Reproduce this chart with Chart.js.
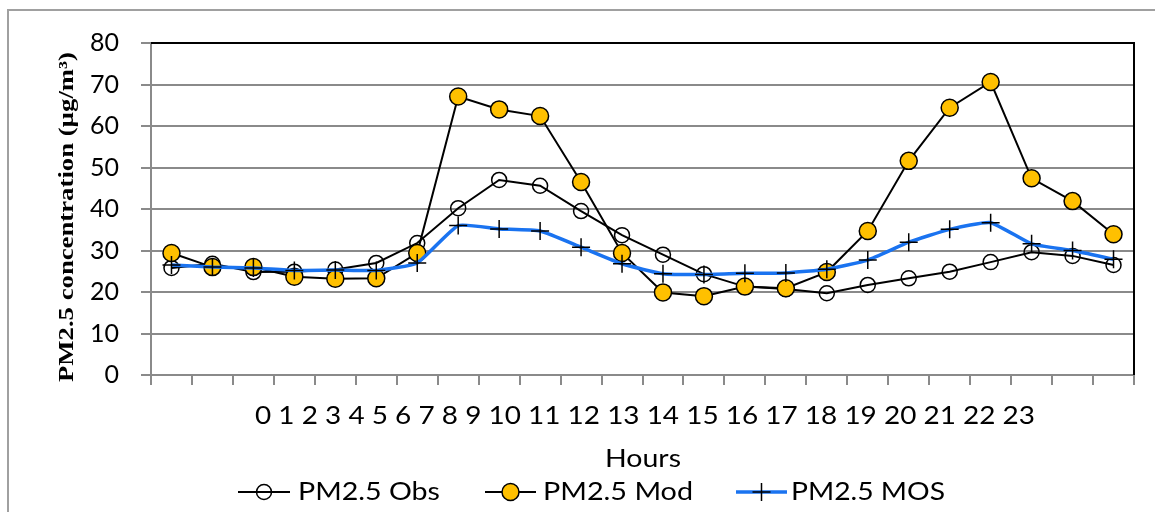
<!DOCTYPE html>
<html>
<head>
<meta charset="utf-8">
<script src="https://cdn.jsdelivr.net/npm/chart.js@4.4.1/dist/chart.umd.min.js"></script>
<style>
  html, body { margin: 0; padding: 0; background: #fff; }
  #wrap { width: 1155px; height: 512px; position: relative; }
</style>
</head>
<body>
<div id="wrap"><canvas id="c" width="1155" height="512"></canvas></div>
<script>
const hours = ["0","1","2","3","4","5","6","7","8","9","10","11","12","13","14","15","16","17","18","19","20","21","22","23"];
const obsValues = [25.8, 26.8, 24.8, 24.9, 25.4, 27.0, 31.8, 40.2, 47.0, 45.6, 39.5, 33.7, 29.0, 24.3, 21.3, 20.7, 19.7, 21.7, 23.3, 24.9, 27.2, 29.6, 28.7, 26.5];
const modValues = [29.4, 26.0, 26.0, 23.7, 23.2, 23.3, 29.4, 67.1, 64.0, 62.4, 46.5, 29.4, 19.9, 19.0, 21.3, 20.9, 24.8, 34.7, 51.6, 64.4, 70.6, 47.4, 41.9, 33.9];
const mosValues = [26.5, 26.0, 25.8, 25.2, 25.3, 25.2, 27.0, 36.0, 35.2, 34.7, 30.8, 26.8, 24.4, 24.2, 24.5, 24.6, 25.5, 27.7, 32.0, 35.1, 36.7, 31.6, 30.0, 27.9];
const seriesNames = ["PM2.5 Obs", "PM2.5 Mod", "PM2.5 MOS"];
const yTicks = [0, 10, 20, 30, 40, 50, 60, 70, 80];
const yTitle = "PM2.5 concentration (\u00b5g/m\u00b3)";
const xTitle = "Hours";

const SANS = "Lato, 'Open Sans', sans-serif";
const SERIF = "'Liberation Serif', 'DejaVu Serif', serif";
const GRID = "#8a8a8a";

// draws text stretched along its baseline so that it spans `width` px
function fitText(ctx, text, x, y, width, align) {
  const w = ctx.measureText(text).width;
  const sx = width / w;
  ctx.save();
  ctx.translate(x, y);
  ctx.scale(sx, 1);
  ctx.textAlign = align;
  ctx.fillText(text, 0, 0);
  ctx.restore();
}

const decor = {
  id: 'decor',
  afterDraw(chart) {
    const ctx = chart.ctx;
    const a = chart.chartArea;
    ctx.save();
    // outer border (left & top)
    ctx.strokeStyle = "#a0a0a0";
    ctx.lineWidth = 2;
    ctx.beginPath();
    ctx.moveTo(8, 512); ctx.lineTo(8, 10); ctx.lineTo(1155, 10);
    ctx.stroke();
    // plot box top & right black
    ctx.strokeStyle = "#000";
    ctx.lineWidth = 2;
    ctx.beginPath();
    ctx.moveTo(a.left, a.top); ctx.lineTo(a.right, a.top); ctx.lineTo(a.right, a.bottom);
    ctx.stroke();
    // hour labels text line
    ctx.fillStyle = "#000";
    ctx.font = "25px " + SANS;
    ctx.textBaseline = "middle";
    fitText(ctx, hours.join(" "), 645, 416, 780, "center");
    // x title
    fitText(ctx, xTitle, 643, 459, 76, "center");
    // y title
    ctx.save();
    ctx.translate(68, 217);
    ctx.rotate(-Math.PI / 2);
    ctx.font = "bold 21px " + SERIF;
    fitText(ctx, yTitle, 0, 0, 330, "center");
    ctx.restore();
    // legend
    const items = [
      {x1: 238, x2: 290, tx: 298, tw: 142},
      {x1: 485, x2: 536, tx: 543, tw: 150},
      {x1: 736, x2: 787, tx: 791, tw: 154}
    ];
    const ly = 492;
    chart.data.datasets.forEach((ds, i) => {
      const it = items[i];
      const cx = (it.x1 + it.x2) / 2, r = ds.pointRadius;
      ctx.strokeStyle = ds.borderColor;
      ctx.lineWidth = ds.borderWidth;
      ctx.beginPath(); ctx.moveTo(it.x1, ly); ctx.lineTo(it.x2, ly); ctx.stroke();
      ctx.fillStyle = ds.pointBackgroundColor;
      ctx.strokeStyle = ds.pointBorderColor;
      ctx.lineWidth = ds.pointBorderWidth;
      ctx.beginPath();
      if (ds.pointStyle === 'circle') {
        ctx.arc(cx, ly, r, 0, Math.PI * 2);
        ctx.fill(); ctx.stroke();
      } else {
        ctx.moveTo(cx - r, ly); ctx.lineTo(cx + r, ly);
        ctx.moveTo(cx, ly - r); ctx.lineTo(cx, ly + r);
        ctx.stroke();
      }
      ctx.fillStyle = "#000";
      ctx.font = "25px " + SANS;
      fitText(ctx, ds.label, it.tx, ly, it.tw, "left");
    });
    ctx.restore();
  }
};

new Chart(document.getElementById('c'), {
  type: 'line',
  data: {
    labels: hours,
    datasets: [
      {
        label: seriesNames[0], data: obsValues, order: 3,
        borderColor: "#000", borderWidth: 2, tension: 0,
        pointStyle: 'circle', pointRadius: 7.5, pointBorderWidth: 1.5,
        pointBackgroundColor: "rgba(255,255,255,0)", pointBorderColor: "#000"
      },
      {
        label: seriesNames[1], data: modValues, order: 2,
        borderColor: "#000", borderWidth: 2, tension: 0,
        pointStyle: 'circle', pointRadius: 8.5, pointBorderWidth: 1.5,
        pointBackgroundColor: "#FFC000", pointBorderColor: "#000"
      },
      {
        label: seriesNames[2], data: mosValues, order: 1,
        borderColor: "#1a73f0", borderWidth: 3.5, tension: 0.15,
        pointStyle: 'cross', pointRadius: 9, pointBorderWidth: 1.5,
        pointBackgroundColor: "#000", pointBorderColor: "#000"
      }
    ]
  },
  options: {
    responsive: false,
    animation: false,
    events: [],
    layout: { padding: { left: 0, top: 43, right: 21, bottom: 127 } },
    plugins: { legend: { display: false }, tooltip: { enabled: false } },
    scales: {
      x: {
        type: 'category',
        offset: true,
        grid: { offset: true, drawOnChartArea: false, drawTicks: true, tickLength: 10, color: GRID, lineWidth: 2 },
        border: { color: GRID, width: 2 },
        ticks: { display: false },
        afterFit(s) { s.height = 10; }
      },
      y: {
        min: 0, max: 80,
        afterBuildTicks(s) { s.ticks = yTicks.map(v => ({ value: v })); },
        grid: { color: GRID, lineWidth: 2, tickLength: 10 },
        border: { color: GRID, width: 2 },
        ticks: { color: "#000", font: { family: SANS, size: 25 }, padding: 22 },
        afterFit(s) { s.width = 151; }
      }
    }
  },
  plugins: [decor]
});
</script>
</body>
</html>
